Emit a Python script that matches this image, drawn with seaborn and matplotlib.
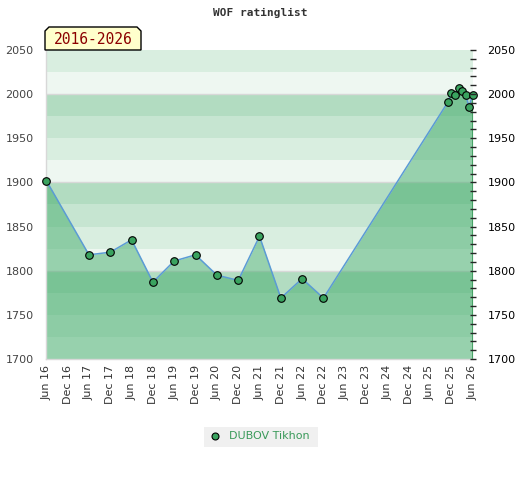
import pandas as pd
import matplotlib
matplotlib.use('Agg')
import matplotlib.pyplot as plt
import matplotlib.dates as mdates
from matplotlib.patches import Polygon, Rectangle
from matplotlib.lines import Line2D
import seaborn as sns

# ratings
dates = ['2016-06-01', '2017-06-01', '2017-12-01', '2018-06-01', '2018-12-01',
         '2019-06-01', '2019-12-01', '2020-06-01', '2020-12-01', '2021-06-01',
         '2021-12-01', '2022-06-01', '2022-12-01', '2025-11-01', '2025-12-01',
         '2026-01-01', '2026-02-01', '2026-03-01', '2026-04-01', '2026-05-01',
         '2026-06-01']
ratings = [1902, 1818, 1821, 1835, 1787, 1811, 1818, 1795, 1789, 1839,
           1769, 1791, 1769, 1991, 2001, 1999, 2007, 2004, 1999, 1986, 1999]
player = 'DUBOV Tikhon'
title = 'WOF ratinglist'
period = '2016-2026'

tick_dates = pd.date_range('2016-06-01', '2026-06-01', freq='6MS')
tick_labels = [d.strftime('%b %y') for d in tick_dates]

df = pd.DataFrame({'date': pd.to_datetime(dates), 'rating': ratings})

sns.set_style('white')
plt.rcParams['font.family'] = ['DejaVu Sans']

fig = plt.figure(figsize=(5.2, 4.8), dpi=100)
ax = fig.add_axes([46 / 520, 1 - 359 / 480, 427 / 520, 309 / 480])

# striped background, 25 points per band
band_cols = ['#eef7f1', '#d9eee0', '#c6e5d1', '#b2dcc1']
for i, lo in enumerate(range(1700, 2050, 25)):
    ax.axhspan(lo, lo + 25, color=band_cols[i % 4], lw=0, zorder=0)
for g in (1800, 1900, 2000):
    ax.axhline(g, color='#d8d8d8', lw=1, zorder=0.5)

ax.fill_between(df['date'], df['rating'], 1700, color='#42ac6b', alpha=0.5,
                lw=0, zorder=1)
ax.plot([df['date'].iloc[0]] * 2, [1700, ratings[0]], color='#3a9a5a', lw=1.2, zorder=1.5)
ax.plot([df['date'].iloc[-1]] * 2, [1700, ratings[-1]], color='#3a9a5a', lw=1.2, zorder=1.5)
sns.lineplot(data=df, x='date', y='rating', color='#5b9bd5', lw=1.1, ax=ax, zorder=2)
sns.scatterplot(data=df, x='date', y='rating', color='#3aa35f', edgecolor='black',
                linewidth=0.8, s=30, ax=ax, zorder=3, clip_on=False)

ax.set_xlim(pd.Timestamp('2016-05-29'), pd.Timestamp('2026-06-04'))
ax.set_ylim(1700, 2050)
ax.set_xticks(tick_dates)
ax.set_xticklabels(tick_labels, rotation=90, fontsize=8, color='#333333')
ax.set_yticks(range(1700, 2051, 50))
ax.tick_params(axis='y', labelsize=8, labelcolor='#444444', length=0, pad=9)
ax.tick_params(axis='x', length=0, pad=4)
ax.set_xlabel('')
ax.set_ylabel('')
for s in ax.spines.values():
    s.set_color('#d8d8d8')
    s.set_linewidth(1)
ax.spines['top'].set_visible(False)
ax.spines['right'].set_visible(False)

# right axis with minor ticks
ax2 = ax.twinx()
ax2.set_ylim(1700, 2050)
ax2.set_yticks(range(1700, 2051, 50))
ax2.set_yticks(range(1700, 2051, 10), minor=True)
ax2.tick_params(axis='y', which='major', labelsize=8, labelcolor='black', length=5,
                direction='inout', width=1, pad=8)
ax2.tick_params(axis='y', which='minor', length=4, direction='inout', width=1)
for s in ax2.spines.values():
    s.set_visible(False)

fig.text(260 / 520, 1 - 13 / 480, title, ha='center', va='center',
         family='DejaVu Sans Mono', fontweight='bold', fontsize=8, color='#333333')

# period label box with clipped top corners
px = lambda x, y: (x / 520, 1 - y / 480)
box = Polygon([px(45, 50), px(45, 31), px(49, 27), px(137, 27), px(141, 31), px(141, 50)],
              closed=True, transform=fig.transFigure, facecolor='#ffffcc',
              edgecolor='black', lw=1, zorder=5)
fig.patches.append(box)
fig.text(93 / 520, 1 - 40 / 480, period, ha='center', va='center',
         family='DejaVu Sans Mono', fontsize=10.5, color='#8b0000', zorder=6)

# legend
leg_bg = Rectangle(px(204, 447), 114 / 520, 20 / 480, transform=fig.transFigure,
                   facecolor='#f0f0f0', edgecolor='none')
fig.patches.append(leg_bg)
fig.lines.append(Line2D([215 / 520], [1 - 436 / 480], marker='o', markersize=5,
                        markerfacecolor='#3aa35f', markeredgecolor='black',
                        markeredgewidth=0.8, transform=fig.transFigure))
fig.text(229 / 520, 1 - 436 / 480, player, ha='left', va='center', fontsize=8,
         color='#3a9a5a')

fig.savefig('out.png', dpi=100)
